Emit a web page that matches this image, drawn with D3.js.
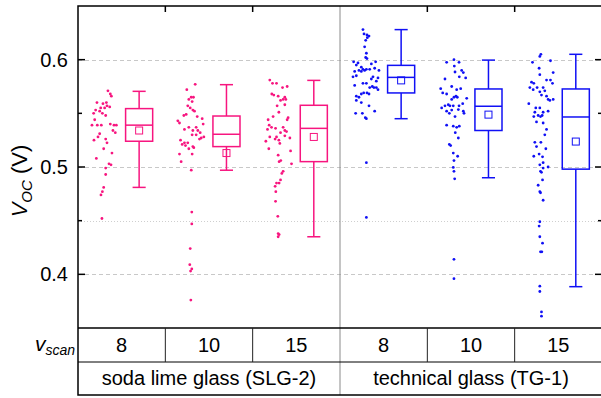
<!DOCTYPE html>
<html>
<head>
<meta charset="utf-8">
<script src="https://cdn.jsdelivr.net/npm/d3@7/dist/d3.min.js"></script>
<style>
  html, body { margin: 0; padding: 0; background: #fff; }
  svg { display: block; font-family: "Liberation Sans", Arial, sans-serif; }
</style>
</head>
<body>
<svg id="chart" width="601" height="398"></svg>
<script>
// categories (scan speed) and substrate groups
const categories = ["8", "10", "15", "8", "10", "15"];
const groups = ["soda lime glass (SLG-2)", "technical glass (TG-1)"];
const groupOf = [0, 0, 0, 1, 1, 1];
const yTicks = [0.4, 0.5, 0.6];
const yMinorTicks = [0.45, 0.55];

// box statistics per category (V)
const whiskerLow = [0.481, 0.497, 0.435, 0.545, 0.490, 0.3885];
const q1 = [0.524, 0.519, 0.505, 0.569, 0.534, 0.498];
const median = [0.539, 0.5305, 0.536, 0.5835, 0.5566, 0.5466];
const q3 = [0.5544, 0.5475, 0.5575, 0.5947, 0.5727, 0.5727];
const whiskerHigh = [0.5705, 0.5767, 0.5807, 0.628, 0.5996, 0.605];
const means = [0.534, 0.513, 0.528, 0.5807, 0.5488, 0.5237];

// raw points: [jitter (category units), Voc]
const slg8 = [[-0.157,0.571],[-0.13,0.568],[-0.118,0.566],[-0.175,0.560],[-0.283,0.560],[-0.214,0.559],[-0.168,0.557],[-0.24,0.555],[-0.195,0.555],[-0.137,0.556],[-0.298,0.553],[-0.252,0.552],[-0.321,0.550],[-0.221,0.550],[-0.183,0.548],[-0.309,0.544],[-0.34,0.539],[-0.279,0.539],[-0.233,0.539],[-0.13,0.540],[-0.088,0.539],[-0.061,0.539],[-0.1,0.534],[-0.073,0.532],[-0.252,0.531],[-0.271,0.528],[-0.317,0.525],[-0.183,0.526],[-0.168,0.5225],[-0.206,0.517],[-0.111,0.513],[-0.29,0.508],[-0.145,0.503],[-0.122,0.502],[-0.183,0.499],[-0.183,0.493],[-0.206,0.481],[-0.221,0.477],[-0.237,0.474],[-0.226,0.452]];
const slg10 = [[-0.158,0.577],[-0.254,0.572],[-0.178,0.565],[-0.204,0.565],[-0.231,0.563],[-0.193,0.561],[-0.243,0.557],[-0.215,0.555],[-0.185,0.553],[-0.166,0.552],[-0.261,0.549],[-0.288,0.548],[-0.135,0.547],[-0.078,0.545],[-0.357,0.543],[-0.338,0.541],[-0.231,0.537],[-0.147,0.537],[-0.281,0.535],[-0.185,0.534],[-0.128,0.534],[-0.067,0.540],[-0.101,0.532],[-0.147,0.530],[-0.193,0.530],[-0.089,0.527],[-0.059,0.528],[-0.109,0.526],[-0.326,0.525],[-0.281,0.5225],[-0.307,0.521],[-0.269,0.520],[-0.243,0.5225],[-0.185,0.519],[-0.231,0.517],[-0.174,0.518],[-0.338,0.512],[-0.193,0.512],[-0.319,0.505],[-0.203,0.497],[-0.197,0.458],[-0.197,0.447],[-0.215,0.424],[-0.22,0.409],[-0.197,0.405],[-0.211,0.403],[-0.208,0.376]];
const slg15 = [[-0.304,0.581],[-0.273,0.578],[-0.227,0.578],[-0.158,0.574],[-0.105,0.575],[-0.281,0.568],[-0.258,0.567],[-0.208,0.566],[-0.132,0.565],[-0.151,0.563],[-0.181,0.562],[-0.12,0.563],[-0.22,0.557],[-0.132,0.558],[-0.2,0.551],[-0.266,0.547],[-0.323,0.544],[-0.094,0.546],[-0.105,0.544],[-0.311,0.539],[-0.284,0.537],[-0.238,0.536],[-0.151,0.537],[-0.132,0.534],[-0.33,0.535],[-0.112,0.533],[-0.181,0.532],[-0.304,0.528],[-0.227,0.528],[-0.243,0.526],[-0.349,0.524],[-0.132,0.529],[-0.2,0.525],[-0.074,0.527],[-0.315,0.517],[-0.189,0.522],[-0.208,0.511],[-0.066,0.515],[-0.197,0.505],[-0.178,0.506],[-0.055,0.503],[-0.151,0.496],[-0.166,0.494],[-0.227,0.485],[-0.197,0.485],[-0.243,0.482],[-0.181,0.488],[-0.235,0.477],[-0.238,0.468],[-0.212,0.454],[-0.208,0.438],[-0.197,0.437],[-0.208,0.435]];
const tg8 = [[-0.237,0.628],[-0.225,0.624],[-0.191,0.623],[-0.168,0.622],[-0.187,0.6205],[-0.206,0.618],[-0.218,0.612],[-0.198,0.606],[-0.206,0.602],[-0.191,0.601],[-0.344,0.598],[-0.294,0.597],[-0.313,0.595],[-0.141,0.596],[-0.092,0.598],[-0.256,0.593],[-0.237,0.591],[-0.283,0.590],[-0.198,0.591],[-0.16,0.591],[-0.103,0.592],[-0.054,0.590],[-0.332,0.589],[-0.256,0.589],[-0.218,0.590],[-0.313,0.585],[-0.122,0.584],[-0.351,0.584],[-0.141,0.582],[-0.065,0.583],[-0.084,0.580],[-0.332,0.576],[-0.237,0.578],[-0.198,0.578],[-0.13,0.575],[-0.084,0.574],[-0.065,0.572],[-0.111,0.574],[-0.16,0.574],[-0.229,0.569],[-0.191,0.569],[-0.168,0.568],[-0.256,0.568],[-0.313,0.566],[-0.283,0.565],[-0.313,0.562],[-0.256,0.560],[-0.168,0.557],[-0.103,0.552],[-0.321,0.550],[-0.244,0.550],[-0.21,0.546],[-0.198,0.545],[-0.198,0.504],[-0.198,0.453]];
const tg10 = [[-0.279,0.5975],[-0.195,0.600],[-0.137,0.5975],[-0.191,0.594],[-0.107,0.590],[-0.088,0.588],[-0.183,0.5885],[-0.061,0.583],[-0.134,0.584],[-0.298,0.582],[-0.347,0.573],[-0.221,0.575],[-0.164,0.572],[-0.118,0.573],[-0.049,0.564],[-0.324,0.569],[-0.279,0.568],[-0.172,0.566],[-0.195,0.565],[-0.157,0.565],[-0.221,0.563],[-0.26,0.558],[-0.095,0.559],[-0.298,0.557],[-0.241,0.557],[-0.203,0.557],[-0.137,0.557],[-0.145,0.5535],[-0.336,0.555],[-0.279,0.552],[-0.221,0.553],[-0.248,0.550],[-0.088,0.552],[-0.183,0.547],[-0.08,0.550],[-0.279,0.539],[-0.203,0.538],[-0.164,0.537],[-0.134,0.538],[-0.18,0.532],[-0.145,0.527],[-0.248,0.521],[-0.233,0.520],[-0.203,0.513],[-0.153,0.510],[-0.195,0.506],[-0.203,0.4996],[-0.195,0.496],[-0.187,0.489],[-0.195,0.414],[-0.195,0.396]];
const tg15 = [[-0.2,0.605],[-0.212,0.603],[-0.296,0.5975],[-0.09,0.599],[-0.22,0.592],[-0.059,0.588],[-0.212,0.586],[-0.307,0.579],[-0.281,0.578],[-0.326,0.574],[-0.243,0.574],[-0.174,0.574],[-0.135,0.581],[-0.09,0.581],[-0.067,0.578],[-0.288,0.572],[-0.212,0.570],[-0.155,0.571],[-0.193,0.567],[-0.135,0.566],[-0.097,0.562],[-0.059,0.563],[-0.117,0.563],[-0.338,0.559],[-0.258,0.555],[-0.212,0.555],[-0.174,0.551],[-0.117,0.552],[-0.269,0.551],[-0.231,0.548],[-0.185,0.548],[-0.281,0.547],[-0.204,0.547],[-0.25,0.542],[-0.174,0.541],[-0.135,0.535],[-0.155,0.530],[-0.269,0.523],[-0.2,0.523],[-0.25,0.519],[-0.143,0.517],[-0.281,0.510],[-0.22,0.512],[-0.181,0.5095],[-0.117,0.500],[-0.212,0.502],[-0.174,0.504],[-0.204,0.496],[-0.193,0.495],[-0.174,0.499],[-0.181,0.488],[-0.231,0.483],[-0.212,0.477],[-0.204,0.476],[-0.174,0.469],[-0.212,0.449],[-0.22,0.445],[-0.212,0.435],[-0.181,0.429],[-0.204,0.421],[-0.189,0.421],[-0.212,0.389],[-0.212,0.384],[-0.193,0.365],[-0.193,0.361]];
const points = [slg8, slg10, slg15, tg8, tg10, tg15];

const colors = ["#f7157f", "#1010f5"];

const margin = { top: 6, left: 78, right: 602, plotBottom: 328 };
const row1Bottom = 362;
const row2Bottom = 395;

const svg = d3.select("#chart");

const x = d3.scaleLinear().domain([0.5, 6.5]).range([margin.left, margin.right]);
const y = d3.scaleLinear().domain([0.35, 0.65]).range([margin.plotBottom, margin.top]);

// grid lines
const grid = svg.append("g");
grid.selectAll("line.major")
  .data(yTicks)
  .join("line")
  .attr("x1", margin.left).attr("x2", margin.right)
  .attr("y1", (d) => Math.round(y(d)) + 0.5).attr("y2", (d) => Math.round(y(d)) + 0.5)
  .attr("stroke", "#c8c8c8").attr("stroke-width", 1)
  .attr("stroke-dasharray", "4,3");
grid.append("line")
  .attr("x1", margin.left).attr("x2", margin.right)
  .attr("y1", Math.round(y(0.45)) + 0.5).attr("y2", Math.round(y(0.45)) + 0.5)
  .attr("stroke", "#cfcfcf").attr("stroke-dasharray", "1,2");

// group divider
svg.append("line")
  .attr("x1", x(3.5)).attr("x2", x(3.5))
  .attr("y1", margin.top).attr("y2", row2Bottom)
  .attr("stroke", "#8a8a8a").attr("stroke-width", 1);

// points
const boxOffset = 0.2;
const boxWidth = 0.31;
const capWidth = 0.15;

points.forEach((pts, i) => {
  const c = colors[groupOf[i]];
  svg.append("g")
    .selectAll("circle")
    .data(pts)
    .join("circle")
    .attr("cx", (d) => x(i + 1 + d[0]))
    .attr("cy", (d) => y(d[1]))
    .attr("r", 1.4)
    .attr("fill", c);
});

// boxes
categories.forEach((cat, i) => {
  const c = colors[groupOf[i]];
  const cx = i + 1 + boxOffset;
  const g = svg.append("g")
    .attr("fill", "none")
    .attr("stroke", c)
    .attr("stroke-width", 1.5);
  g.append("line")
    .attr("x1", x(cx)).attr("x2", x(cx))
    .attr("y1", y(whiskerHigh[i])).attr("y2", y(q3[i]));
  g.append("line")
    .attr("x1", x(cx)).attr("x2", x(cx))
    .attr("y1", y(q1[i])).attr("y2", y(whiskerLow[i]));
  [whiskerHigh[i], whiskerLow[i]].forEach((v) => {
    g.append("line")
      .attr("x1", x(cx - capWidth / 2)).attr("x2", x(cx + capWidth / 2))
      .attr("y1", y(v)).attr("y2", y(v));
  });
  g.append("rect")
    .attr("x", x(cx - boxWidth / 2))
    .attr("width", x(cx + boxWidth / 2) - x(cx - boxWidth / 2))
    .attr("y", y(q3[i]))
    .attr("height", y(q1[i]) - y(q3[i]));
  g.append("line")
    .attr("x1", x(cx - boxWidth / 2)).attr("x2", x(cx + boxWidth / 2))
    .attr("y1", y(median[i])).attr("y2", y(median[i]));
  g.append("rect")
    .attr("x", x(cx) - 3.5).attr("y", y(means[i]) - 3.5)
    .attr("width", 7).attr("height", 7)
    .attr("stroke-width", 1);
});

// axes ticks
const axes = svg.append("g").attr("stroke", "#000");
yTicks.forEach((v) => {
  axes.append("line").attr("x1", margin.left).attr("x2", margin.left + 7)
    .attr("y1", y(v)).attr("y2", y(v)).attr("stroke-width", 1.5);
  axes.append("line").attr("x1", margin.right).attr("x2", margin.right - 7)
    .attr("y1", y(v)).attr("y2", y(v)).attr("stroke-width", 1.5);
});
yMinorTicks.forEach((v) => {
  axes.append("line").attr("x1", margin.left).attr("x2", margin.left + 4)
    .attr("y1", y(v)).attr("y2", y(v)).attr("stroke-width", 1.5);
  axes.append("line").attr("x1", margin.right).attr("x2", margin.right - 4)
    .attr("y1", y(v)).attr("y2", y(v)).attr("stroke-width", 1.5);
});
[1.5, 2.5, 4.5, 5.5].forEach((b) => {
  axes.append("line").attr("x1", x(b)).attr("x2", x(b))
    .attr("y1", margin.top).attr("y2", margin.top + 6).attr("stroke-width", 1.5);
});

// frame
svg.append("rect")
  .attr("x", margin.left).attr("y", margin.top)
  .attr("width", margin.right - margin.left)
  .attr("height", row2Bottom - margin.top)
  .attr("fill", "none").attr("stroke", "#000").attr("stroke-width", 1.5);
svg.append("line")
  .attr("x1", margin.left).attr("x2", margin.right)
  .attr("y1", margin.plotBottom).attr("y2", margin.plotBottom)
  .attr("stroke", "#000").attr("stroke-width", 1.5);
svg.append("line")
  .attr("x1", margin.left).attr("x2", margin.right)
  .attr("y1", row1Bottom).attr("y2", row1Bottom)
  .attr("stroke", "#000").attr("stroke-width", 1);

// tick labels
svg.append("g")
  .selectAll("text")
  .data(yTicks)
  .join("text")
  .attr("x", 68)
  .attr("y", (d) => y(d) + 7)
  .attr("text-anchor", "end")
  .attr("font-size", 20)
  .text((d) => d.toFixed(1));

// y label
const ylab = svg.append("text")
  .attr("transform", "translate(27,181) rotate(-90)")
  .attr("text-anchor", "middle")
  .attr("font-size", 22);
ylab.append("tspan").attr("font-style", "italic").text("V");
ylab.append("tspan").attr("font-style", "italic").attr("font-size", 15).attr("dy", 5).text("OC");
ylab.append("tspan").attr("dy", -5).text(" (V)");

// table: scan speed row
[1.5, 2.5, 4.5, 5.5].forEach((b) => {
  svg.append("line")
    .attr("x1", x(b)).attr("x2", x(b))
    .attr("y1", margin.plotBottom).attr("y2", row1Bottom)
    .attr("stroke", "#222").attr("stroke-width", 1);
});
svg.append("g")
  .selectAll("text")
  .data(categories)
  .join("text")
  .attr("x", (d, i) => x(i + 1))
  .attr("y", 352)
  .attr("text-anchor", "middle")
  .attr("font-size", 20)
  .text((d) => d);

const vscan = svg.append("text")
  .attr("x", 75).attr("y", 351)
  .attr("text-anchor", "end")
  .attr("font-size", 21)
  .attr("font-style", "italic");
vscan.append("tspan").text("v");
vscan.append("tspan").attr("font-size", 14).attr("dy", 4).text("scan");

svg.append("g")
  .selectAll("text")
  .data(groups)
  .join("text")
  .attr("x", (d, i) => x(i * 3 + 2))
  .attr("y", 385)
  .attr("text-anchor", "middle")
  .attr("font-size", 20)
  .text((d) => d);
</script>
</body>
</html>
